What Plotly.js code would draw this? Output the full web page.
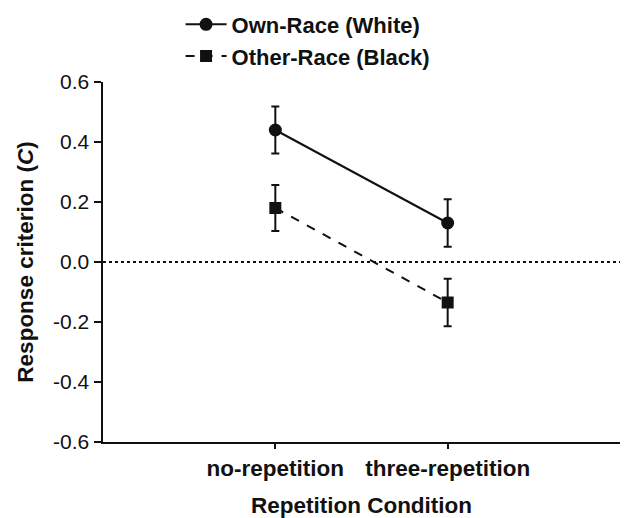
<!DOCTYPE html>
<html>
<head>
<meta charset="utf-8">
<script src="https://cdn.plot.ly/plotly-3.0.1.min.js"></script>
<style>html,body{margin:0;padding:0;background:#fff;}#chart{width:626px;height:518px;}</style>
</head>
<body>
<div id="chart"></div>
<script>
const categories = ["no-repetition", "three-repetition"];
const xPos = [0, 1];
const ownRace = [0.44, 0.13];
const ownErr = [0.078, 0.079];
const otherRace = [0.18, -0.135];
const otherErr = [0.077, 0.079];
const seriesNames = ["Own-Race (White)", "Other-Race (Black)"];
const yTicks = [-0.6, -0.4, -0.2, 0.0, 0.2, 0.4, 0.6];
const yTickText = ["-0.6", "-0.4", "-0.2", "0.0", "0.2", "0.4", "0.6"];

const font = "Liberation Sans, Arial, Helvetica, sans-serif";

const traces = [
  {
    x: xPos, y: ownRace, name: seriesNames[0], type: "scatter", mode: "lines+markers",
    line: {color: "#111", width: 2, dash: "solid"},
    marker: {symbol: "circle", size: 13, color: "#111"},
    error_y: {type: "data", array: ownErr, visible: true, color: "#111", thickness: 2, width: 4}
  },
  {
    x: xPos, y: otherRace, name: seriesNames[1], type: "scatter", mode: "lines+markers",
    line: {color: "#111", width: 2, dash: "dash"},
    marker: {symbol: "square", size: 12, color: "#111"},
    error_y: {type: "data", array: otherErr, visible: true, color: "#111", thickness: 2, width: 4}
  }
];

const layout = {
  width: 626, height: 518,
  margin: {l: 103, r: 6, t: 82, b: 76, autoexpand: false},
  paper_bgcolor: "#fff", plot_bgcolor: "#fff",
  font: {family: font, color: "#111", size: 20},
  showlegend: true,
  legend: {
    x: 0.15, y: 1.218, xanchor: "left", yanchor: "top",
    font: {family: font, size: 22, weight: "bold", color: "#111"},
    bgcolor: "rgba(0,0,0,0)", itemwidth: 41, tracegroupgap: 0
  },
  xaxis: {
    range: [-1, 2], tickmode: "array", tickvals: xPos, ticktext: categories,
    showgrid: false, zeroline: false, showline: true, linecolor: "#111", linewidth: 2,
    ticks: "outside", ticklen: 5, tickwidth: 2, tickcolor: "#111",
    tickfont: {family: font, size: 22.5, weight: "bold", color: "#111"},
    title: {text: "Repetition Condition", font: {family: font, size: 22.5, weight: "bold", color: "#111"}, standoff: 18}
  },
  yaxis: {
    range: [-0.6, 0.6], tickmode: "array", tickvals: yTicks, ticktext: yTickText,
    showgrid: false, zeroline: false, showline: true, linecolor: "#111", linewidth: 2.5,
    ticks: "outside", ticklen: 7, tickwidth: 2, tickcolor: "#111",
    tickfont: {family: font, size: 21, color: "#111"},
    title: {text: "Response criterion (<i>C</i>)", font: {family: font, size: 22.5, weight: "bold", color: "#111"}, standoff: 13}
  },
  shapes: [
    {type: "line", xref: "paper", yref: "y", x0: 0, x1: 1, y0: 0, y1: 0,
     line: {color: "#111", width: 2, dash: "dot"}, layer: "below"}
  ]
};

Plotly.newPlot("chart", traces, layout, {displayModeBar: false, staticPlot: true});
</script>
</body>
</html>
